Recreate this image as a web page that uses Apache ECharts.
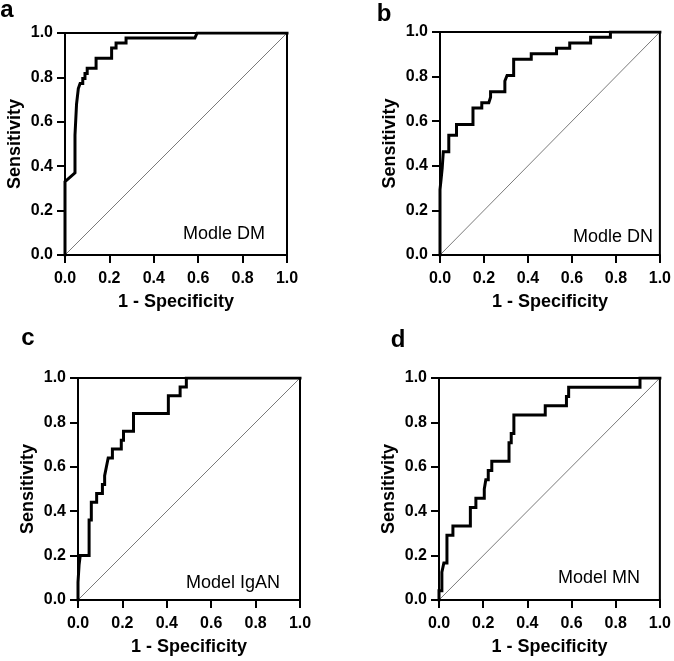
<!DOCTYPE html>
<html>
<head>
<meta charset="utf-8">
<script src="https://cdn.jsdelivr.net/npm/echarts@6/dist/echarts.min.js"></script>
<style>
html,body{margin:0;padding:0;background:#fff;}
#c{width:674px;height:661px;}
</style>
</head>
<body>
<div id="c"></div>
<script>
// ---- data (1 - specificity, sensitivity) ----
const fprA = [0,0,0.045,0.045,0.052,0.052,0.06,0.06,0.068,0.068,0.08,0.08,0.09,0.09,0.1,0.1,0.14,0.14,0.21,0.21,0.23,0.23,0.275,0.275,0.585,0.595,1];
const tprA = [0,0.33,0.37,0.54,0.54,0.68,0.68,0.75,0.75,0.773,0.773,0.795,0.795,0.818,0.818,0.841,0.841,0.886,0.886,0.932,0.932,0.955,0.955,0.977,0.977,1,1];

const fprB = [0,0,0.005,0.005,0.01,0.01,0.015,0.015,0.04,0.04,0.075,0.075,0.15,0.15,0.19,0.19,0.222,0.23,0.23,0.295,0.295,0.305,0.335,0.335,0.415,0.415,0.53,0.53,0.59,0.59,0.685,0.685,0.775,0.775,1];
const tprB = [0,0.293,0.293,0.34,0.34,0.39,0.39,0.463,0.463,0.537,0.537,0.585,0.585,0.659,0.659,0.683,0.683,0.707,0.732,0.732,0.78,0.805,0.805,0.878,0.878,0.902,0.902,0.927,0.927,0.951,0.951,0.976,0.976,1,1];

const fprC = [0,0,0.005,0.005,0.01,0.01,0.05,0.05,0.06,0.06,0.084,0.084,0.11,0.11,0.12,0.12,0.128,0.128,0.136,0.136,0.155,0.155,0.195,0.195,0.205,0.205,0.25,0.25,0.407,0.407,0.46,0.46,0.488,0.488,1];
const tprC = [0,0.08,0.08,0.16,0.16,0.2,0.2,0.36,0.36,0.44,0.44,0.48,0.48,0.52,0.52,0.56,0.56,0.6,0.6,0.64,0.64,0.68,0.68,0.72,0.72,0.76,0.76,0.84,0.84,0.92,0.92,0.96,0.96,1,1];

const fprD = [0,0,0.013,0.013,0.022,0.022,0.036,0.036,0.063,0.063,0.142,0.142,0.167,0.167,0.205,0.205,0.212,0.212,0.223,0.223,0.239,0.239,0.317,0.317,0.327,0.327,0.339,0.339,0.481,0.481,0.577,0.577,0.587,0.587,0.91,0.91,1];
const tprD = [0,0.042,0.042,0.125,0.125,0.167,0.167,0.292,0.292,0.333,0.333,0.417,0.417,0.458,0.458,0.5,0.5,0.542,0.542,0.583,0.583,0.625,0.625,0.708,0.708,0.75,0.75,0.833,0.833,0.875,0.875,0.917,0.917,0.958,0.958,1,1];

const diagX = [0,1];
const diagY = [0,1];

const panelLetters = ['a','b','c','d'];
const modelNames = ['Modle DM','Modle DN','Model IgAN','Model MN'];
const xTitle = '1 - Specificity';
const yTitle = 'Sensitivity';

// ---- layout ----
const grids = [
  {left:65, top:33, width:222, height:222},
  {left:440, top:32, width:222, height:223},
  {left:78, top:378, width:222, height:222},
  {left:439, top:378, width:223, height:222}
];
const letterPos = [[7,10],[384,14],[28,338],[398,340]];
const namePos = [[265,234],[653,237],[280,583],[640,578]];

const FONT = '"Liberation Sans", Arial, sans-serif';
const curves = [[fprA,tprA],[fprB,tprB],[fprC,tprC],[fprD,tprD]];
const zip = (xs, ys) => xs.map((x,i)=>[x, ys[i]]);

const option = {
  animation:false,
  backgroundColor:'#fff',
  grid: grids.map(g => Object.assign({show:true, borderColor:'#000', borderWidth:2, backgroundColor:'transparent'}, g)),
  xAxis: grids.map((g,i)=>({
    gridIndex:i, type:'value', min:0, max:1, interval:0.2,
    name:xTitle, nameLocation:'middle', nameGap:38,
    nameTextStyle:{fontFamily:FONT, fontWeight:'bold', fontSize:18, color:'#000'},
    axisLine:{show:true, lineStyle:{color:'#000', width:2}},
    axisTick:{show:true, inside:false, length:8, lineStyle:{color:'#000', width:2}},
    axisLabel:{show:true, margin:16, fontFamily:FONT, fontWeight:'bold', fontSize:16, color:'#000',
      showMinLabel:true, showMaxLabel:true, formatter:v=>v.toFixed(1)},
    splitLine:{show:false}
  })),
  yAxis: grids.map((g,i)=>({
    gridIndex:i, type:'value', min:0, max:1, interval:0.2,
    name:yTitle, nameLocation:'middle', nameGap:41,
    nameTextStyle:{fontFamily:FONT, fontWeight:'bold', fontSize:18, color:'#000'},
    axisLine:{show:true, lineStyle:{color:'#000', width:2}},
    axisTick:{show:true, inside:false, length:8, lineStyle:{color:'#000', width:2}},
    axisLabel:{show:true, margin:12, fontFamily:FONT, fontWeight:'bold', fontSize:16, color:'#000',
      showMinLabel:true, showMaxLabel:true, formatter:v=>v.toFixed(1)},
    splitLine:{show:false}
  })),
  series: [].concat(
    grids.map((g,i)=>({
      type:'line', xAxisIndex:i, yAxisIndex:i, data:zip(diagX,diagY),
      showSymbol:false, symbol:'none', lineStyle:{color:'#7a7a7a', width:1}, z:2, silent:true
    })),
    curves.map((c,i)=>({
      type:'line', xAxisIndex:i, yAxisIndex:i, data:zip(c[0],c[1]),
      showSymbol:false, symbol:'none', lineStyle:{color:'#000', width:3, join:'miter', cap:'square'}, z:3, silent:true
    }))
  ),
  graphic: [].concat(
    panelLetters.map((t,i)=>({
      type:'text', x:letterPos[i][0], y:letterPos[i][1],
      style:{text:t, fill:'#000', font:'bold 24px '+FONT, textAlign:'center', textVerticalAlign:'middle'}
    })),
    modelNames.map((t,i)=>({
      type:'text', x:namePos[i][0], y:namePos[i][1],
      style:{text:t, fill:'#000', font:'18px '+FONT, textAlign:'right', textVerticalAlign:'middle'}
    }))
  )
};

const chart = echarts.init(document.getElementById('c'), null, {renderer:'canvas'});
chart.setOption(option);
</script>
</body>
</html>
